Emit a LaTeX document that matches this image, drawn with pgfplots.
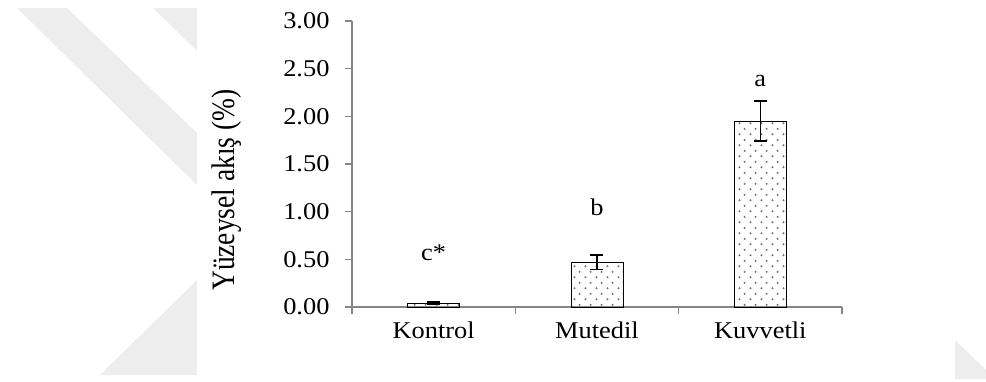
\documentclass[border=0pt]{standalone}
\usepackage{pgfplots}
\pgfplotsset{compat=1.18}
\usepackage{fontspec}
\usepackage{graphicx}
\setmainfont{Liberation Serif}[FakeStretch=1.1]
\newfontfamily\plainserif{Liberation Serif}
\usetikzlibrary{patterns.meta}
\definecolor{axisgray}{RGB}{134,134,134}
\definecolor{wm}{RGB}{237,237,237}
\tikzdeclarepattern{
  name=sdots,
  type=uncolored,
  bounding box={(0pt,0pt) and (11pt,11.4pt)},
  tile size={(11pt,11.4pt)},
  code={
    \fill (2.75pt,2.85pt) circle (1.2pt);
    \fill (8.25pt,8.55pt) circle (1.2pt);
  }
}
\begin{document}
\begin{tikzpicture}
\useasboundingbox (-352pt,-74pt) rectangle (634pt,307pt);
% faint background watermark
\fill[wm] (-335pt,299pt) -- (-285pt,299pt) -- (-155pt,174pt) -- (-155pt,122pt) -- cycle;
\fill[wm] (-199pt,299pt) -- (-155pt,299pt) -- (-155pt,256pt) -- cycle;
\fill[wm] (-155pt,27pt) -- (-155pt,-68pt) -- (-252pt,-68pt) -- cycle;
\fill[wm] (603pt,-33pt) -- (634pt,-63pt) -- (634pt,-72pt) -- (603pt,-72pt) -- cycle;
\begin{axis}[
  at={(0pt,0pt)}, anchor=south west,
  scale only axis,
  width=490pt, height=286pt,
  xmin=0.5, xmax=3.5,
  ymin=0, ymax=3,
  axis x line*=bottom,
  axis y line*=left,
  axis line style={axisgray, line width=1.3pt},
  tick style={axisgray, line width=1.3pt},
  tick align=outside,
  major tick length=7pt,
  xtick={0.5,1.5,2.5,3.5},
  xticklabels={},
  extra x ticks={1,2,3},
  extra x tick labels={Kontrol,Mutedil,Kuvvetli},
  extra x tick style={major tick length=0pt, xticklabel style={yshift=-11pt}},
  ytick={0,0.5,1,1.5,2,2.5,3},
  yticklabel style={xshift=-12pt, /pgf/number format/fixed, /pgf/number format/fixed zerofill, /pgf/number format/precision=2},
  /pgf/number format/assume math mode=true,
  ticklabel style={font=\fontsize{24}{26}\selectfont, text=black},
  ylabel={\scalebox{1}[1.19]{\plainserif\fontsize{27.5}{30}\selectfont Yüzeysel akış (\%)}},
  ylabel style={at={(axis description cs:-0.255,0.409)}, anchor=center, rotate=0},
  clip=false,
]
\addplot[
  ybar, bar width=52pt, draw=black, line width=0.9pt,
  pattern=sdots, pattern color=black!55,
  error bars/.cd, y dir=both, y explicit,
  error bar style={black, line width=1.6pt},
  error mark options={black, rotate=90, mark size=6.5pt, line width=1.6pt}
] coordinates {
  (1,0.04) +- (0,0.012)
  (2,0.47) +- (0,0.075)
  (3,1.95) +- (0,0.21)
};
\node[font=\fontsize{24}{26}\selectfont] at (axis cs:1,0.57) {c*};
\node[font=\fontsize{24}{26}\selectfont] at (axis cs:2,1.05) {b};
\node[font=\fontsize{24}{26}\selectfont] at (axis cs:3,2.37) {a};
\end{axis}
\end{tikzpicture}
\end{document}
